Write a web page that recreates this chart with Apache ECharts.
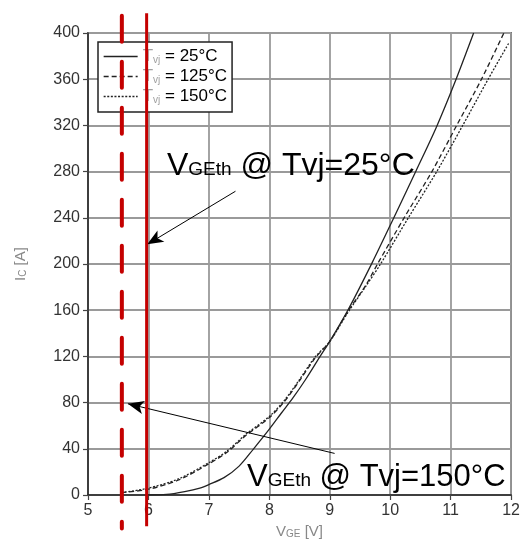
<!DOCTYPE html>
<html>
<head>
<meta charset="utf-8">
<script src="https://cdn.jsdelivr.net/npm/echarts@6/dist/echarts.min.js"></script>
<style>html,body{margin:0;padding:0;background:#fff;}#c{width:523px;height:545px;}</style>
</head>
<body>
<div id="c"></div>
<script>
// ---- data ----
const xTicks = [5, 6, 7, 8, 9, 10, 11, 12];
const yTicks = [0, 40, 80, 120, 160, 200, 240, 280, 320, 360, 400];
const names = ['25°C', '125°C', '150°C'];
const ic25 = [[5.97,0],[6.3,0.5],[6.6,3],[6.85,6],[7,9],[7.25,15],[7.5,25],[7.74,40],[8,57],[8.2,71],[8.39,84],[8.6,100],[8.84,120],[9,133],[9.31,161],[9.7,201],[10.05,239],[10.43,281],[10.76,318],[11.06,356],[11.38,400]];
const ic125 = [[5.55,2],[6,5],[6.5,13],[7,27],[7.3,37],[7.6,51],[8,67],[8.25,81],[8.5,99],[8.75,118],[9,133],[9.3,159],[9.6,182],[9.79,200],[10.23,240],[10.69,280],[11.1,320],[11.51,360],[11.88,400]];
const ic150 = [[5.55,2],[6,6],[6.5,14],[7,28],[7.3,38],[7.6,52],[8,68],[8.25,82],[8.5,100],[8.75,119],[9,133],[9.3,158],[9.6,181],[9.84,200],[10.3,240],[10.77,280],[11.2,320],[11.62,360],[11.97,392]];
const vth25 = 5.97;
const vth150 = 5.56;
const vthLineY = [417, -27];
const arrow25 = [[7.44, 263], [5.98, 217]];
const arrow150 = [[9.08, 36], [5.66, 79]];
const label25 = 'V{s|GEth}{v| @ Tvj=25°C}';
const label150 = 'V{s|GEth}{v| @ Tvj=150°C}';

const FF = 'Liberation Sans, Arial, sans-serif';
const chart = echarts.init(document.getElementById('c'));
const curveStyle = (type) => ({ color: '#222', width: 1.3, type: type });
chart.setOption({
  animation: false,
  backgroundColor: '#fff',
  grid: { left: 88, right: 8, top: 33, bottom: 50, show: true, borderColor: '#222', borderWidth: 1.5, backgroundColor: 'transparent' },
  legend: {
    data: names,
    orient: 'vertical',
    left: 98, top: 42,
    padding: [6, 5, 7, 5],
    itemGap: 3,
    itemWidth: 34, itemHeight: 16,
    borderColor: '#222', borderWidth: 1.5, backgroundColor: '#fff',
    itemStyle: { opacity: 0 },
    lineStyle: { width: 1.3 },
    formatter: n => '{g|T}{s|vj}{k| = ' + n + '}',
    textStyle: {
      fontFamily: FF,
      rich: {
        g: { fontSize: 17, color: '#a0a0a0', fontFamily: FF },
        s: { fontSize: 10, color: '#a0a0a0', fontFamily: FF, verticalAlign: 'bottom', padding: [6, 0, 0, 0] },
        k: { fontSize: 17, color: '#000', fontFamily: FF }
      }
    }
  },
  xAxis: {
    type: 'value', min: xTicks[0], max: xTicks[xTicks.length - 1], interval: 1,
    name: 'V{s|GE}{i| [V]}', nameLocation: 'middle', nameGap: 27,
    nameTextStyle: { fontSize: 15, color: '#888', fontFamily: FF,
      rich: { s: { fontSize: 10, color: '#888', fontFamily: FF, verticalAlign: 'bottom', padding: [5, 0, 0, 0] }, i: { fontSize: 15, color: '#888', fontFamily: FF } } },
    axisLine: { lineStyle: { color: '#222', width: 1.5 } },
    axisTick: { show: true, length: 5, lineStyle: { color: '#444', width: 1.2 } },
    axisLabel: { fontSize: 16, color: '#333', fontFamily: FF, margin: 8 },
    splitLine: { show: true, lineStyle: { color: '#9a9a9a', width: 1.8 } }
  },
  yAxis: {
    type: 'value', min: yTicks[0], max: yTicks[yTicks.length - 1], interval: 40,
    name: 'I{s|C}{i| [A]}', nameLocation: 'middle', nameGap: 60, nameRotate: 90,
    nameTextStyle: { fontSize: 15, color: '#888', fontFamily: FF,
      rich: { s: { fontSize: 10, color: '#888', fontFamily: FF, verticalAlign: 'bottom', padding: [5, 0, 0, 0] }, i: { fontSize: 15, color: '#888', fontFamily: FF } } },
    axisLine: { show: true, lineStyle: { color: '#222', width: 1.5 } },
    axisTick: { show: true, length: 5, lineStyle: { color: '#444', width: 1.2 } },
    axisLabel: { fontSize: 16, color: '#333', fontFamily: FF, margin: 8 },
    splitLine: { show: true, lineStyle: { color: '#9a9a9a', width: 1.8 } }
  },
  series: [
    { name: names[0], type: 'line', data: ic25, symbol: 'none', smooth: 0.3, lineStyle: curveStyle('solid'), itemStyle: { color: '#222' } },
    { name: names[1], type: 'line', data: ic125, symbol: 'none', smooth: 0.3, lineStyle: curveStyle([5, 3]), itemStyle: { color: '#222' } },
    { name: names[2], type: 'line', data: ic150, symbol: 'none', smooth: 0.3, lineStyle: curveStyle([2, 1.6]), itemStyle: { color: '#222' } },
    { name: 'th25', type: 'line', clip: false, symbol: 'none', silent: true,
      data: vthLineY.map(y => [vth25, y]),
      lineStyle: { color: '#c40000', width: 3 }, z: 5,
      markLine: { silent: true, symbol: ['none', 'arrow'], symbolSize: [10, 16], label: { show: false },
        lineStyle: { color: '#000', width: 1, type: 'solid' },
        data: [
          [{ coord: arrow25[0] }, { coord: arrow25[1] }],
          [{ coord: arrow150[0] }, { coord: arrow150[1] }]
        ] } },
    { name: 'th150', type: 'line', clip: false, symbol: 'none', silent: true,
      data: vthLineY.map(y => [vth150, y - 2]),
      lineStyle: { color: '#c40000', width: 4, type: [26, 20], cap: 'round' }, z: 5 }
  ],
  graphic: [
    { type: 'text', left: 167, top: 150, z: 100,
      style: { text: label25, fontSize: 32, fontFamily: FF, fill: '#000',
        rich: { s: { fontSize: 19, fontFamily: FF, fill: '#000', verticalAlign: 'bottom', padding: [0, 0, 3, 0] }, v: { fontSize: 32, fontFamily: FF, fill: '#000' } } } },
    { type: 'text', left: 247, top: 462, z: 100,
      style: { text: label150, fontSize: 31, fontFamily: FF, fill: '#000',
        rich: { s: { fontSize: 19, fontFamily: FF, fill: '#000', verticalAlign: 'bottom', padding: [0, 0, 3, 0] }, v: { fontSize: 31, fontFamily: FF, fill: '#000' } } } }
  ]
});
</script>
</body>
</html>
